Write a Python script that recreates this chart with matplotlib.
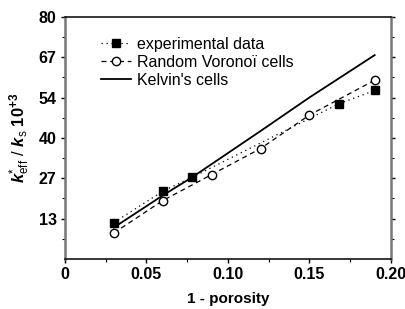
import matplotlib
matplotlib.use("Agg")
import matplotlib.pyplot as plt
from matplotlib.ticker import FixedLocator, MultipleLocator

plt.rcParams['font.family'] = ['Liberation Sans', 'DejaVu Sans']
plt.rcParams['mathtext.fontset'] = 'custom'
plt.rcParams['mathtext.rm'] = 'Liberation Sans'
plt.rcParams['mathtext.it'] = 'Liberation Sans:italic'
plt.rcParams['mathtext.bf'] = 'Liberation Sans:bold'
plt.rcParams['mathtext.bfit'] = 'Liberation Sans:bold:italic'

exp_x = [0.030, 0.060, 0.078, 0.168, 0.190]
exp_y = [12.0, 22.4, 27.0, 51.3, 55.7]
vor_x = [0.030, 0.060, 0.090, 0.120, 0.150, 0.190]
vor_y = [8.6, 19.3, 27.9, 36.5, 47.6, 59.1]
kel_x = [0.030, 0.060, 0.078, 0.120, 0.150, 0.190]
kel_y = [10.4, 21.0, 27.0, 42.3, 53.4, 67.4]

ytick_vals = [80/6*i for i in range(1, 7)]
ytick_labels = ['13', '27', '40', '54', '67', '80']
xtick_vals = [0, 0.05, 0.10, 0.15, 0.20]
xtick_labels = ['0', '0.05', '0.10', '0.15', '0.20']

fig = plt.figure(figsize=(4.06, 3.09), dpi=100)
ax = fig.add_axes([0.160, 0.162, 0.803, 0.783])

ax.plot(exp_x, exp_y, color='black', linestyle=(0, (1, 3)), linewidth=0.9,
        marker='s', markersize=6, markerfacecolor='black', label='experimental data')
ax.plot(vor_x, vor_y, color='black', linestyle=(0, (4, 3)), linewidth=0.9,
        marker='o', markersize=6, markerfacecolor='white', markeredgewidth=1.0,
        label='Random Vorono\u00ef cells')
ax.plot(kel_x, kel_y, color='black', linestyle='-', linewidth=1.3, label="Kelvin's cells")

ax.set_xlim(0, 0.20)
ax.set_ylim(0, 80)
ax.set_xticks(xtick_vals)
ax.set_xticklabels(xtick_labels)
ax.set_yticks(ytick_vals)
ax.set_yticklabels(ytick_labels)
ax.xaxis.set_minor_locator(MultipleLocator(0.025))
ax.yaxis.set_minor_locator(FixedLocator([80/12*(2*i+1) for i in range(6)]))

for lab in ax.get_xticklabels() + ax.get_yticklabels():
    lab.set_fontweight('bold')
    lab.set_fontsize(11.5)

ax.tick_params(axis='both', which='major', direction='out', length=3, width=1, pad=3)
ax.tick_params(axis='both', which='minor', direction='out', length=2, width=0.8)
ax.tick_params(axis='y', right=True, which='both')

for s in ['left', 'right']:
    ax.spines[s].set_color('#777777')
    ax.spines[s].set_linewidth(1.8)
for s in ['top', 'bottom']:
    ax.spines[s].set_color('black')
    ax.spines[s].set_linewidth(1.1)

ax.set_xlabel('1 - porosity', fontsize=11, fontweight='bold', labelpad=7)
ax.set_ylabel(r'$\mathbfit{k}^{*}_{\mathrm{eff}}\ /\ \mathbfit{k}_{\mathrm{s}}\ \mathbf{10^{+3}}$',
              fontsize=12, labelpad=5)

leg = ax.legend(loc='upper left', bbox_to_anchor=(0.09, 0.945), frameon=False,
                fontsize=11.5, handlelength=1.9, handletextpad=0.35, labelspacing=0.2,
                borderaxespad=0)

fig.savefig('out.png', dpi=100)
